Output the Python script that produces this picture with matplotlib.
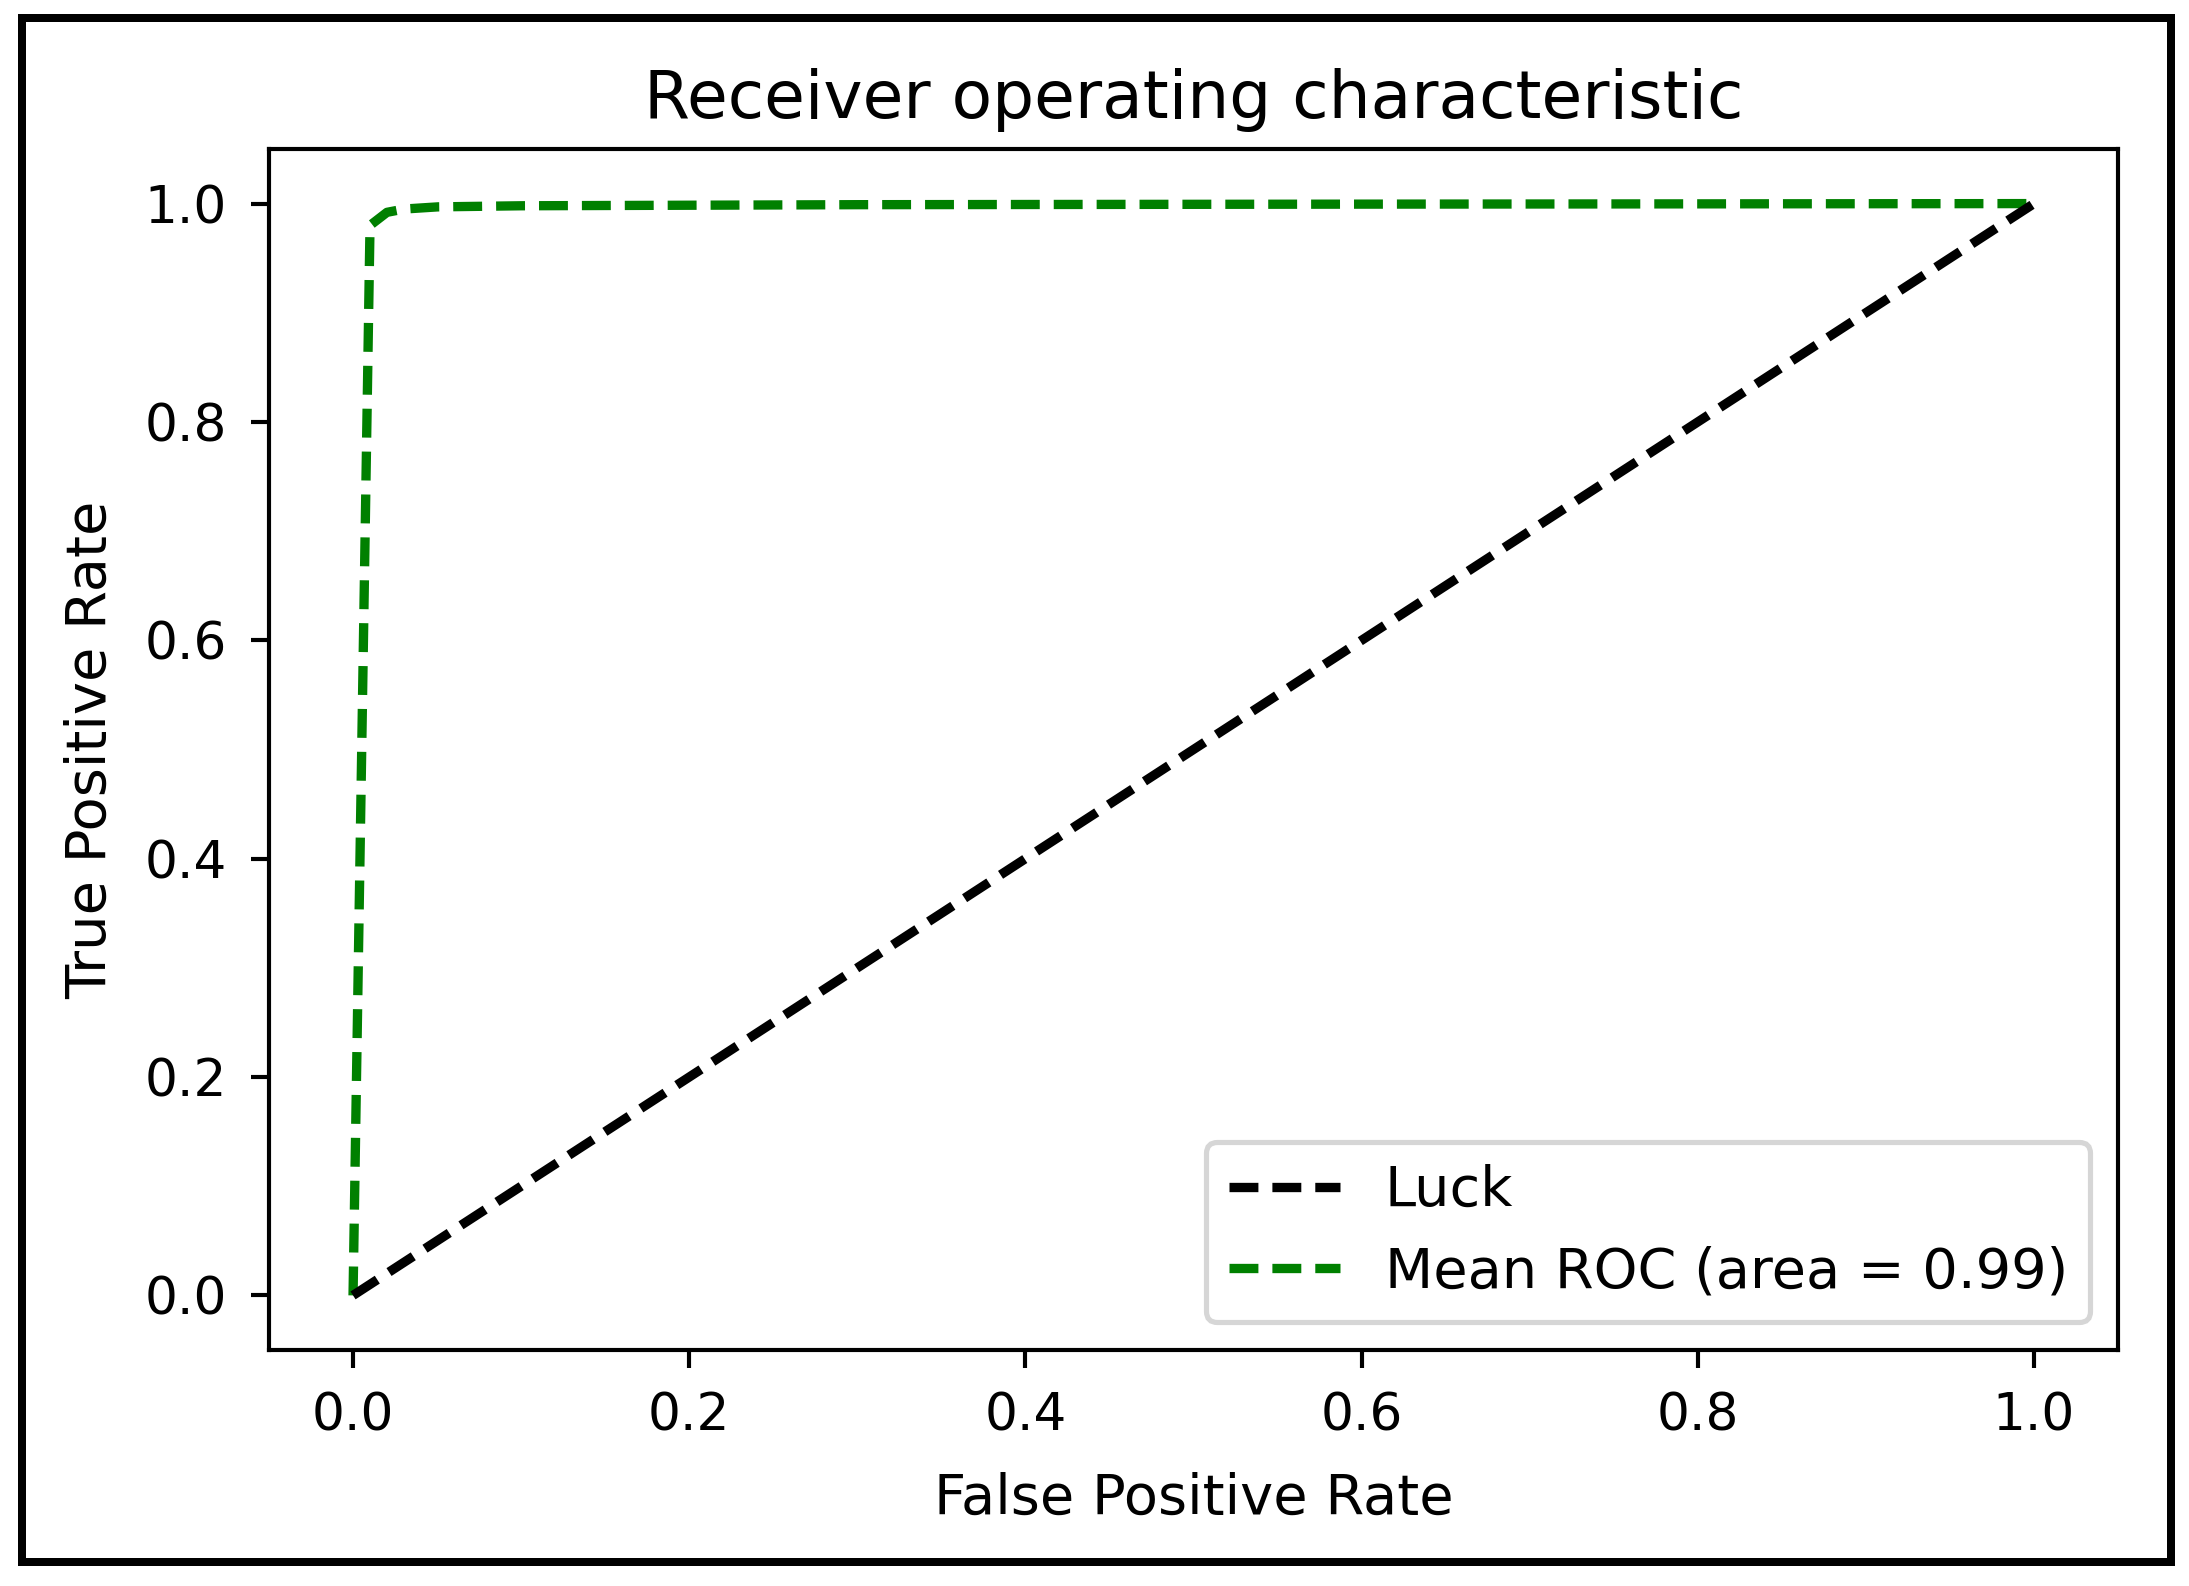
import matplotlib
matplotlib.use('Agg')
import matplotlib.pyplot as plt
from matplotlib.patches import Rectangle

# chance line
luck_fpr = [0.0, 1.0]
luck_tpr = [0.0, 1.0]

# mean ROC curve
mean_fpr = [0.0, 0.0101, 0.0202, 0.0303, 0.0505, 0.1, 0.3, 0.6, 1.0]
mean_tpr = [0.0, 0.980, 0.992, 0.995, 0.997, 0.998, 0.999, 0.9995, 1.0]
mean_auc = 0.99

DPI = 373
W, H = 2189, 1586

fig = plt.figure(figsize=(W / DPI, H / DPI), dpi=DPI)
ax = fig.add_axes([269 / W, 1 - 1350 / H, (2118 - 269) / W, (1350 - 149) / H])

lw = 1.8
dash = (0, (3.1, 1.5))
mean_line, = ax.plot(mean_fpr, mean_tpr, color='g', linestyle=dash, lw=lw,
                     label='Mean ROC (area = %0.2f)' % mean_auc)
luck_line, = ax.plot(luck_fpr, luck_tpr, color='k', linestyle=dash, lw=lw, label='Luck')

ax.set_xlim([-0.05, 1.05])
ax.set_ylim([-0.05, 1.05])
ax.tick_params(pad=4.6)
ax.set_xlabel('False Positive Rate', fontsize=10.8, labelpad=5.8)
ax.set_ylabel('True Positive Rate', fontsize=10.8, labelpad=5.2)
ax.set_title('Receiver operating characteristic', fontsize=12.8)
ax.legend(handles=[luck_line, mean_line], loc='lower right', fontsize=10.75)

# thick frame around the whole picture
lw_px = 8
fig.patches.append(Rectangle((22 / W, 1 - 1562 / H), (2171 - 22) / W, (1562 - 18) / H,
                             transform=fig.transFigure, fill=False,
                             edgecolor='black', linewidth=lw_px * 72 / DPI))

fig.savefig('out.png', dpi=DPI)
